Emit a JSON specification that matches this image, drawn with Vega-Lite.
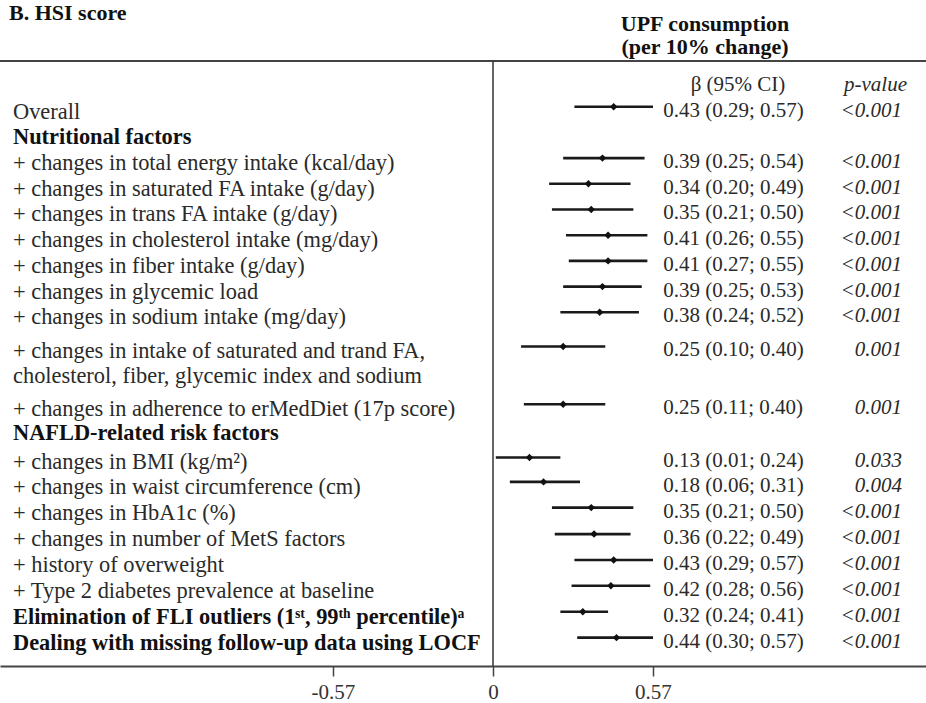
{
  "$schema": "https://vega.github.io/schema/vega-lite/v6.json",
  "width": 926,
  "height": 605,
  "autosize": {"type": "none"},
  "padding": {"top": 61, "bottom": 37, "left": 0, "right": 0},
  "background": "white",
  "config": {"view": {"stroke": null}, "font": "Liberation Serif"},
  "datasets": {
    "rows": [
      {"row": 1, "label": "Overall", "kind": "overall", "est": 0.43, "lo": 0.29, "hi": 0.57, "ci": "0.43 (0.29; 0.57)", "p": "<0.001"},
      {"row": 2, "label": "Nutritional factors", "kind": "group"},
      {"row": 3, "label": "+ changes in total energy intake (kcal/day)", "kind": "adjust", "est": 0.39, "lo": 0.25, "hi": 0.54, "ci": "0.39 (0.25; 0.54)", "p": "<0.001"},
      {"row": 4, "label": "+ changes in saturated FA intake (g/day)", "kind": "adjust", "est": 0.34, "lo": 0.20, "hi": 0.49, "ci": "0.34 (0.20; 0.49)", "p": "<0.001"},
      {"row": 5, "label": "+ changes in trans FA intake (g/day)", "kind": "adjust", "est": 0.35, "lo": 0.21, "hi": 0.50, "ci": "0.35 (0.21; 0.50)", "p": "<0.001"},
      {"row": 6, "label": "+ changes in cholesterol intake (mg/day)", "kind": "adjust", "est": 0.41, "lo": 0.26, "hi": 0.55, "ci": "0.41 (0.26; 0.55)", "p": "<0.001"},
      {"row": 7, "label": "+ changes in fiber intake (g/day)", "kind": "adjust", "est": 0.41, "lo": 0.27, "hi": 0.55, "ci": "0.41 (0.27; 0.55)", "p": "<0.001"},
      {"row": 8, "label": "+ changes in glycemic load", "kind": "adjust", "est": 0.39, "lo": 0.25, "hi": 0.53, "ci": "0.39 (0.25; 0.53)", "p": "<0.001"},
      {"row": 9, "label": "+ changes in sodium intake (mg/day)", "kind": "adjust", "est": 0.38, "lo": 0.24, "hi": 0.52, "ci": "0.38 (0.24; 0.52)", "p": "<0.001"},
      {"row": 10.33, "label": "+ changes in intake of saturated and trand FA,", "kind": "adjust", "est": 0.25, "lo": 0.10, "hi": 0.40, "ci": "0.25 (0.10; 0.40)", "p": "0.001"},
      {"row": 11.28, "label": "cholesterol, fiber, glycemic index and sodium", "kind": "cont"},
      {"row": 12.58, "label": "+ changes in adherence to erMedDiet (17p score)", "kind": "adjust", "est": 0.25, "lo": 0.11, "hi": 0.40, "ci": "0.25 (0.11; 0.40)", "p": "0.001"},
      {"row": 13.5, "label": "NAFLD-related risk factors", "kind": "group"},
      {"row": 14.65, "label": "+ changes in BMI (kg/m²)", "kind": "adjust", "est": 0.13, "lo": 0.01, "hi": 0.24, "ci": "0.13 (0.01; 0.24)", "p": "0.033"},
      {"row": 15.6, "label": "+ changes in waist circumference (cm)", "kind": "adjust", "est": 0.18, "lo": 0.06, "hi": 0.31, "ci": "0.18 (0.06; 0.31)", "p": "0.004"},
      {"row": 16.6, "label": "+ changes in HbA1c (%)", "kind": "adjust", "est": 0.35, "lo": 0.21, "hi": 0.50, "ci": "0.35 (0.21; 0.50)", "p": "<0.001"},
      {"row": 17.63, "label": "+ changes in number of MetS factors", "kind": "adjust", "est": 0.36, "lo": 0.22, "hi": 0.49, "ci": "0.36 (0.22; 0.49)", "p": "<0.001"},
      {"row": 18.64, "label": "+ history of overweight", "kind": "adjust", "est": 0.43, "lo": 0.29, "hi": 0.57, "ci": "0.43 (0.29; 0.57)", "p": "<0.001"},
      {"row": 19.64, "label": "+ Type 2 diabetes prevalence at baseline", "kind": "adjust", "est": 0.42, "lo": 0.28, "hi": 0.56, "ci": "0.42 (0.28; 0.56)", "p": "<0.001"},
      {"row": 20.65, "label": "Elimination of FLI outliers (1ˢᵗ, 99ᵗʰ percentile)ᵃ", "kind": "sensitivity", "est": 0.32, "lo": 0.24, "hi": 0.41, "ci": "0.32 (0.24; 0.41)", "p": "<0.001"},
      {"row": 21.66, "label": "Dealing with missing follow-up data using LOCF", "kind": "sensitivity", "est": 0.44, "lo": 0.30, "hi": 0.57, "ci": "0.44 (0.30; 0.57)", "p": "<0.001"}
    ],
    "one": [{}]
  },
  "data": {"name": "rows"},
  "layer": [
    {
      "data": {"name": "one"},
      "mark": {"type": "rule", "color": "#444", "strokeWidth": 2},
      "encoding": {"y": {"datum": -0.778, "type": "quantitative", "scale": {"domain": [-0.778, 22.763], "reverse": true, "nice": false, "zero": false}, "axis": null}}
    },
    {
      "data": {"name": "one"},
      "mark": {"type": "rule", "color": "#333", "strokeWidth": 1.5},
      "encoding": {"x": {"datum": 0, "type": "quantitative"}}
    },
    {
      "transform": [{"filter": "isValid(datum.est)"}],
      "mark": {"type": "rule", "color": "#1a1a1a", "strokeWidth": 2.6},
      "encoding": {
        "x": {"field": "lo", "type": "quantitative",
          "scale": {"domain": [-1.7563, 1.5426], "nice": false, "zero": false},
          "axis": {"orient": "bottom", "values": [-0.57, 0, 0.57], "title": null, "grid": false,
            "labelExpr": "datum.value < 0 ? '-' + format(-datum.value, '.2~f') : format(datum.value, '.2~f')",
            "domainColor": "#444", "domainWidth": 2, "tickColor": "#444", "tickWidth": 1.5, "tickSize": 10,
            "labelFont": "Liberation Serif", "labelFontSize": 21, "labelColor": "#333", "labelPadding": 5}},
        "x2": {"field": "hi"},
        "y": {"field": "row", "type": "quantitative"}
      }
    },
    {
      "transform": [{"filter": "isValid(datum.est)"}],
      "mark": {"type": "point", "shape": "diamond", "filled": true, "size": 55, "color": "#111", "opacity": 1},
      "encoding": {
        "x": {"field": "est", "type": "quantitative"},
        "y": {"field": "row", "type": "quantitative"}
      }
    },
    {
      "transform": [{"filter": "datum.kind != 'group' && datum.kind != 'sensitivity'"}],
      "mark": {"type": "text", "align": "left", "baseline": "middle", "font": "Liberation Serif", "fontSize": 22.4, "color": "#2a2a2a", "dy": 5},
      "encoding": {
        "x": {"datum": -1.71, "type": "quantitative"},
        "y": {"field": "row", "type": "quantitative"},
        "text": {"field": "label"}
      }
    },
    {
      "transform": [{"filter": "datum.kind == 'group' || datum.kind == 'sensitivity'"}],
      "mark": {"type": "text", "align": "left", "baseline": "middle", "font": "Liberation Serif", "fontSize": 22.4, "fontWeight": "bold", "color": "#111", "dy": 5},
      "encoding": {
        "x": {"datum": -1.71, "type": "quantitative"},
        "y": {"field": "row", "type": "quantitative"},
        "text": {"field": "label"}
      }
    },
    {
      "transform": [{"filter": "isValid(datum.est)"}],
      "mark": {"type": "text", "align": "left", "baseline": "middle", "font": "Liberation Serif", "fontSize": 21, "color": "#2a2a2a", "dy": 4},
      "encoding": {
        "x": {"datum": 0.6067, "type": "quantitative"},
        "y": {"field": "row", "type": "quantitative"},
        "text": {"field": "ci"}
      }
    },
    {
      "transform": [{"filter": "isValid(datum.est)"}],
      "mark": {"type": "text", "align": "right", "baseline": "middle", "font": "Liberation Serif", "fontSize": 21, "fontStyle": "italic", "color": "#2a2a2a", "dy": 4},
      "encoding": {
        "x": {"datum": 1.4571, "type": "quantitative"},
        "y": {"field": "row", "type": "quantitative"},
        "text": {"field": "p"}
      }
    },
    {
      "data": {"name": "one"},
      "mark": {"type": "text", "text": "B. HSI score", "align": "left", "baseline": "middle", "font": "Liberation Serif", "fontSize": 22, "fontWeight": "bold", "color": "#111"},
      "encoding": {"x": {"datum": -1.7243, "type": "quantitative"}, "y": {"datum": -2.66, "type": "quantitative"}}
    },
    {
      "data": {"name": "one"},
      "mark": {"type": "text", "text": "UPF consumption", "align": "center", "baseline": "middle", "font": "Liberation Serif", "fontSize": 22, "fontWeight": "bold", "color": "#111"},
      "encoding": {"x": {"datum": 0.7553, "type": "quantitative"}, "y": {"datum": -2.22, "type": "quantitative"}}
    },
    {
      "data": {"name": "one"},
      "mark": {"type": "text", "text": "(per 10% change)", "align": "center", "baseline": "middle", "font": "Liberation Serif", "fontSize": 22, "fontWeight": "bold", "color": "#111"},
      "encoding": {"x": {"datum": 0.7553, "type": "quantitative"}, "y": {"datum": -1.32, "type": "quantitative"}}
    },
    {
      "data": {"name": "one"},
      "mark": {"type": "text", "text": "β (95% CI)", "align": "center", "baseline": "middle", "font": "Liberation Serif", "fontSize": 21, "color": "#2a2a2a"},
      "encoding": {"x": {"datum": 0.8728, "type": "quantitative"}, "y": {"datum": 0.156, "type": "quantitative"}}
    },
    {
      "data": {"name": "one"},
      "mark": {"type": "text", "text": "p-value", "align": "center", "baseline": "middle", "font": "Liberation Serif", "fontSize": 21, "fontStyle": "italic", "color": "#2a2a2a"},
      "encoding": {"x": {"datum": 1.3627, "type": "quantitative"}, "y": {"datum": 0.156, "type": "quantitative"}}
    }
  ]
}
